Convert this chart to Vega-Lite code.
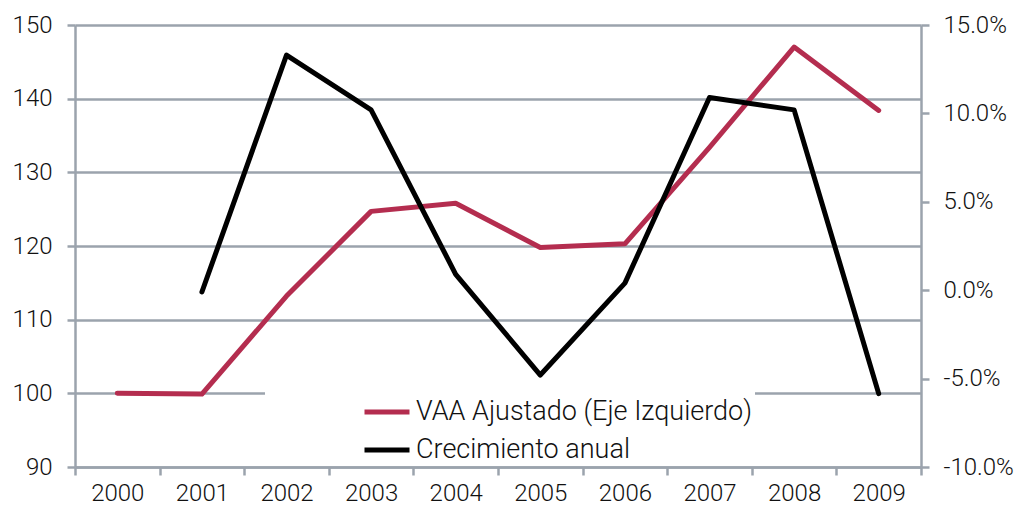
{
  "$schema": "https://vega.github.io/schema/vega-lite/v6.json",
  "width": 846,
  "height": 442,
  "autosize": {"type": "none"},
  "padding": {"left": 75, "top": 25, "right": 106, "bottom": 56},
  "background": "white",
  "data": {
    "values": [
      {"year": "2000", "vaa": 100.0, "growth": null},
      {"year": "2001", "vaa": 99.9, "growth": -0.001},
      {"year": "2002", "vaa": 113.2, "growth": 0.133},
      {"year": "2003", "vaa": 124.7, "growth": 0.102},
      {"year": "2004", "vaa": 125.8, "growth": 0.009},
      {"year": "2005", "vaa": 119.8, "growth": -0.048},
      {"year": "2006", "vaa": 120.3, "growth": 0.004},
      {"year": "2007", "vaa": 133.4, "growth": 0.109},
      {"year": "2008", "vaa": 147.0, "growth": 0.102},
      {"year": "2009", "vaa": 138.4, "growth": -0.0585}
    ]
  },
  "config": {
    "view": {"stroke": null},
    "font": "Roboto",
    "locale": {"number": {"decimal": ".", "thousands": ",", "grouping": [3], "currency": ["$", ""], "minus": "-"}},
    "axis": {
      "labelFont": "Roboto",
      "labelFontWeight": 300,
      "labelFontSize": 24,
      "labelColor": "#111111",
      "domainColor": "#9BA3AD",
      "domainWidth": 2.5,
      "tickColor": "#9BA3AD",
      "tickWidth": 2.5,
      "tickSize": 8,
      "gridColor": "#9BA3AD",
      "gridWidth": 2.5,
      "title": null
    }
  },
  "encoding": {
    "x": {
      "field": "year",
      "type": "ordinal",
      "scale": {"type": "band", "paddingInner": 0, "paddingOuter": 0},
      "axis": {"labelAngle": 0, "tickBand": "extent", "grid": false, "labelPadding": 6, "title": null}
    }
  },
  "layer": [
    {
      "mark": {"type": "line", "strokeWidth": 5, "strokeCap": "round", "strokeJoin": "round"},
      "encoding": {
        "y": {
          "field": "vaa",
          "type": "quantitative",
          "scale": {"domain": [90, 150], "nice": false, "zero": false},
          "axis": {"orient": "left", "values": [90, 100, 110, 120, 130, 140, 150], "grid": true, "labelPadding": 15, "title": null}
        },
        "color": {
          "datum": "VAA Ajustado (Eje Izquierdo)",
          "scale": {"domain": ["VAA Ajustado (Eje Izquierdo)", "Crecimiento anual"], "range": ["#B42D4F", "#000000"]},
          "legend": {
            "orient": "none",
            "legendX": 190,
            "legendY": 359,
            "title": null,
            "fillColor": "white",
            "padding": 3,
            "symbolOffset": 94,
            "symbolType": "stroke",
            "symbolStrokeWidth": 5,
            "symbolSize": 2025,
            "labelFont": "Roboto",
            "labelFontWeight": 300,
            "labelFontSize": 27,
            "labelColor": "#111111",
            "labelOffset": 4,
            "labelLimit": 0,
            "rowPadding": 0
          }
        }
      }
    },
    {
      "mark": {"type": "line", "strokeWidth": 5, "strokeCap": "round", "strokeJoin": "round"},
      "encoding": {
        "y": {
          "field": "growth",
          "type": "quantitative",
          "scale": {"domain": [-0.1, 0.15], "nice": false, "zero": false},
          "axis": {"orient": "right", "format": ".1%", "values": [-0.1, -0.05, 0, 0.05, 0.1, 0.15], "grid": false, "labelPadding": 14, "title": null}
        },
        "color": {"datum": "Crecimiento anual"}
      }
    }
  ],
  "resolve": {"scale": {"y": "independent"}}
}
